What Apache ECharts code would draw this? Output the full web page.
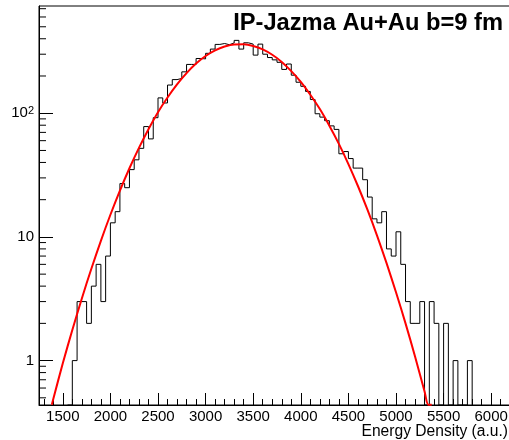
<!DOCTYPE html>
<html><head><meta charset="utf-8">
<script src="https://cdn.jsdelivr.net/npm/echarts@6/dist/echarts.min.js"></script>
<style>html,body{margin:0;padding:0;background:#fff}#c{width:509px;height:440px}</style>
</head><body><div id="c"></div>
<script>
// ---- data ----
const titleText = 'IP-Jazma Au+Au b=9 fm';
const xName = 'Energy Density (a.u.)';
const xMin = 1250, xMax = 6250;
const yMin = 0.4375, yMax = 736;
const binStart = 1600;
const binWidth = 50;
const counts = [
  1, 3, 3, 2, 4, 6, 3, 7, 13, 16,            // 1600-2050
  27, 25, 35, 42, 52, 78, 62, 92, 133, 121,  // 2100-2550
  169, 187, 191, 216, 248, 248, 277, 275, 305, 330, // 2600-3050
  360, 366, 358, 370, 388, 330, 371, 362, 295, 362, // 3100-3550
  300, 282, 270, 258, 226, 250, 203, 178, 165, 150, // 3600-4050
  129, 99, 93, 87, 79, 74, 47, 49, 43, 36,   // 4100-4550
  36, 29, 21, 14, 13, 16, 8, 7, 11, 6,       // 4600-5050
  3, 2, 2, 3, 0, 3, 2, 0, 2, 0,              // 5100-5550
  1, 0, 0, 1                                 // 5600-5750
];
const curveX = [1385, 1400, 1500, 1600, 1700, 1800, 1900, 2000, 2100, 2200, 2300, 2400, 2500,
  2600, 2700, 2800, 2900, 3000, 3100, 3200, 3300, 3400, 3500, 3600, 3700, 3800, 3900, 4000,
  4100, 4200, 4300, 4400, 4500, 4600, 4700, 4800, 4900, 5000, 5100, 5200, 5300, 5340, 5375];
const curveY = [0.44, 0.49, 0.95, 1.77, 3.18, 5.53, 9.3, 15.1, 23.7, 35.9, 52.5, 74.3, 102,
  134, 171, 211, 252, 290, 322, 346, 360, 361, 350, 328, 297, 260, 219, 179,
  141, 108, 79.3, 56.5, 38.8, 25.8, 16.6, 10.3, 6.16, 3.57, 2.0, 1.08, 0.563, 0.44, 0.44];
const yMinorTicks = [0.5, 0.6, 0.7, 0.8, 0.9, 2, 3, 4, 5, 6, 7, 8, 9,
  20, 30, 40, 50, 60, 70, 80, 90, 200, 300, 400, 500, 600, 700];

// ---- build ----
const FONT = '"Liberation Sans", Arial, Helvetica, sans-serif';
const histData = [[binStart - binWidth, yMin]];
counts.forEach((c, i) => histData.push([binStart + i * binWidth, c > 0 ? c : yMin]));
histData.push([binStart + counts.length * binWidth, yMin]);
const curveData = curveX.map((x, i) => [x, curveY[i]]);

const chart = echarts.init(document.getElementById('c'), null, {renderer: 'canvas'});
chart.setOption({
  animation: false,
  backgroundColor: '#fff',
  title: {
    text: titleText, right: 6, top: 11.5, padding: 0,
    textStyle: {fontSize: 23.7, fontWeight: 'bold', color: '#000', fontFamily: FONT}
  },
  grid: {left: 39, right: -6, top: 6, bottom: 35, show: true, borderColor: '#000', borderWidth: 1,
    containLabel: false, outerBoundsMode: 'none'},
  xAxis: {
    type: 'value', min: xMin, max: xMax, splitNumber: 10,
    name: xName, nameLocation: 'end', nameGap: -7, nameMoveOverlap: false,
    nameTextStyle: {fontSize: 15.6, color: '#000', fontFamily: FONT, align: 'right', verticalAlign: 'top', padding: [19, 0, 0, 0]},
    axisLine: {show: true, lineStyle: {color: '#000', width: 1}},
    axisTick: {show: true, inside: true, length: 12, lineStyle: {color: '#000'}},
    minorTick: {show: true, splitNumber: 5, length: 6, lineStyle: {color: '#000'}},
    axisLabel: {color: '#000', fontSize: 15, fontFamily: FONT, margin: 4, showMinLabel: false, showMaxLabel: false,
      formatter: function (v) { return String(Math.round(v)); }},
    splitLine: {show: false}
  },
  yAxis: {
    type: 'log', logBase: 10, min: yMin, max: yMax,
    axisLine: {show: true, lineStyle: {color: '#000', width: 1}},
    axisTick: {show: true, inside: true, length: 14, lineStyle: {color: '#000'}},
    axisLabel: {
      color: '#000', fontSize: 15, fontFamily: FONT, margin: 5, showMinLabel: false, showMaxLabel: false,
      formatter: function (v) {
        const e = Math.round(Math.log10(v));
        if (e >= 2) return '{b|10}{s|' + e + '}';
        return String(Math.round(Math.pow(10, e)));
      },
      rich: {
        b: {fontSize: 15, fontFamily: FONT, color: '#000', lineHeight: 15},
        s: {fontSize: 11, fontFamily: FONT, color: '#000', lineHeight: 9, verticalAlign: 'top'}
      }
    },
    splitLine: {show: false}
  },
  series: [
    {
      type: 'custom', coordinateSystem: 'cartesian2d', silent: true, z: 5,
      data: yMinorTicks.map(v => [xMin, v]),
      renderItem: function (params, api) {
        const p = api.coord([api.value(0), api.value(1)]);
        return {type: 'line', shape: {x1: p[0], y1: p[1], x2: p[0] + 7, y2: p[1]},
          style: {stroke: '#000', lineWidth: 1}};
      }
    },
    {
      type: 'line', step: 'end', data: histData, symbol: 'none', clip: true,
      lineStyle: {color: '#000', width: 1}, z: 3
    },
    {
      type: 'line', smooth: 0.3, data: curveData, symbol: 'none', clip: true,
      lineStyle: {color: '#ff0000', width: 2}, z: 4
    }
  ]
});
</script></body></html>
